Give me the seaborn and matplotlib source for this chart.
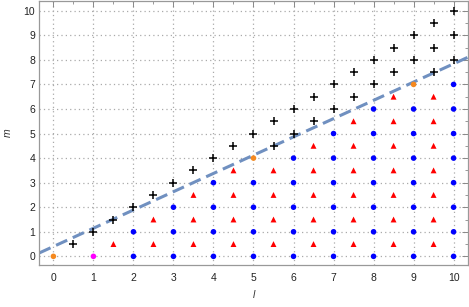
import matplotlib
matplotlib.use("Agg")
import matplotlib.pyplot as plt
import seaborn as sns
import pandas as pd
from matplotlib.ticker import MultipleLocator

# black pluses
plus_l = [0.5, 1, 1.5, 2, 2.5, 3, 3.5, 4, 4.5, 5, 5.5, 6, 6.5, 7, 7.5, 8, 8.5, 9, 9.5, 10,
          5.5, 6, 6.5, 7, 7.5, 8, 8.5, 9, 9.5, 10,
          9.5, 10]
plus_m = [0.5, 1, 1.5, 2, 2.5, 3, 3.5, 4, 4.5, 5, 5.5, 6, 6.5, 7, 7.5, 8, 8.5, 9, 9.5, 10,
          4.5, 5, 5.5, 6, 6.5, 7, 7.5, 8, 8.5, 9,
          7.5, 8]

# red triangles
tri_l = [1.5,
         2.5, 2.5,
         3.5, 3.5, 3.5,
         4.5, 4.5, 4.5, 4.5,
         5.5, 5.5, 5.5, 5.5,
         6.5, 6.5, 6.5, 6.5, 6.5,
         7.5, 7.5, 7.5, 7.5, 7.5, 7.5,
         8.5, 8.5, 8.5, 8.5, 8.5, 8.5, 8.5,
         9.5, 9.5, 9.5, 9.5, 9.5, 9.5, 9.5]
tri_m = [0.5,
         0.5, 1.5,
         0.5, 1.5, 2.5,
         0.5, 1.5, 2.5, 3.5,
         0.5, 1.5, 2.5, 3.5,
         0.5, 1.5, 2.5, 3.5, 4.5,
         0.5, 1.5, 2.5, 3.5, 4.5, 5.5,
         0.5, 1.5, 2.5, 3.5, 4.5, 5.5, 6.5,
         0.5, 1.5, 2.5, 3.5, 4.5, 5.5, 6.5]

# blue circles
blue_l = [2, 2,
          3, 3, 3,
          4, 4, 4, 4,
          5, 5, 5, 5,
          6, 6, 6, 6, 6,
          7, 7, 7, 7, 7, 7,
          8, 8, 8, 8, 8, 8, 8,
          9, 9, 9, 9, 9, 9, 9,
          10, 10, 10, 10, 10, 10, 10, 10]
blue_m = [0, 1,
          0, 1, 2,
          0, 1, 2, 3,
          0, 1, 2, 3,
          0, 1, 2, 3, 4,
          0, 1, 2, 3, 4, 5,
          0, 1, 2, 3, 4, 5, 6,
          0, 1, 2, 3, 4, 5, 6,
          0, 1, 2, 3, 4, 5, 6, 7]

orange_l = [0, 5, 9]
orange_m = [0, 4, 7]
magenta_l = [1]
magenta_m = [0]

line_l = [-0.35, 10.35]
line_m = [0.14, 8.1]

sns.set_style("white")
plt.rcParams['font.family'] = ['Liberation Sans', 'DejaVu Sans']

fig, ax = plt.subplots(figsize=(4.69, 3.07), dpi=100)
fig.subplots_adjust(left=0.084, right=0.997, bottom=0.137, top=0.997)

ax.grid(True, which='major', linestyle=(0, (1, 2.5)), color='#aaaaaa', linewidth=0.9)
ax.set_axisbelow(True)

sns.lineplot(x=line_l, y=line_m, ax=ax, color='#7090c0', linewidth=2.2,
             linestyle=(0, (4, 2)), zorder=2)

sns.scatterplot(x=blue_l, y=blue_m, ax=ax, color='#0000ff', marker='o', s=16,
                edgecolor='none', zorder=3)
sns.scatterplot(x=tri_l, y=tri_m, ax=ax, color='#ff0000', marker='^', s=18,
                edgecolor='none', zorder=3)
sns.scatterplot(x=orange_l, y=orange_m, ax=ax, color='#f5891f', marker='o', s=16,
                edgecolor='none', zorder=3)
sns.scatterplot(x=magenta_l, y=magenta_m, ax=ax, color='#ff00ff', marker='o', s=16,
                edgecolor='none', zorder=3)
sns.scatterplot(x=plus_l, y=plus_m, ax=ax, color='black', marker='+', s=40,
                linewidth=1.1, zorder=4)

ax.set_xlim(-0.35, 10.35)
ax.set_ylim(-0.35, 10.4)
ax.xaxis.set_major_locator(MultipleLocator(1))
ax.yaxis.set_major_locator(MultipleLocator(1))
ax.xaxis.set_minor_locator(MultipleLocator(0.5))
ax.yaxis.set_minor_locator(MultipleLocator(0.5))
ax.tick_params(which='both', direction='in', top=True, right=True, color='#888888',
               labelsize=7.5, labelcolor='#222222')
ax.tick_params(axis='x', which='major', pad=6)
ax.tick_params(axis='y', which='major', pad=3)
ax.tick_params(which='major', length=4, width=0.7)
ax.tick_params(which='minor', length=2, width=0.6)
for sp in ax.spines.values():
    sp.set_color('#999999')
    sp.set_linewidth(0.9)

ax.set_xlabel('l', fontstyle='italic', fontsize=7.5, color='#333333', labelpad=5)
ax.set_ylabel('m', fontstyle='italic', fontsize=7.5, color='#333333', labelpad=8)

fig.savefig('out.png', dpi=100)
